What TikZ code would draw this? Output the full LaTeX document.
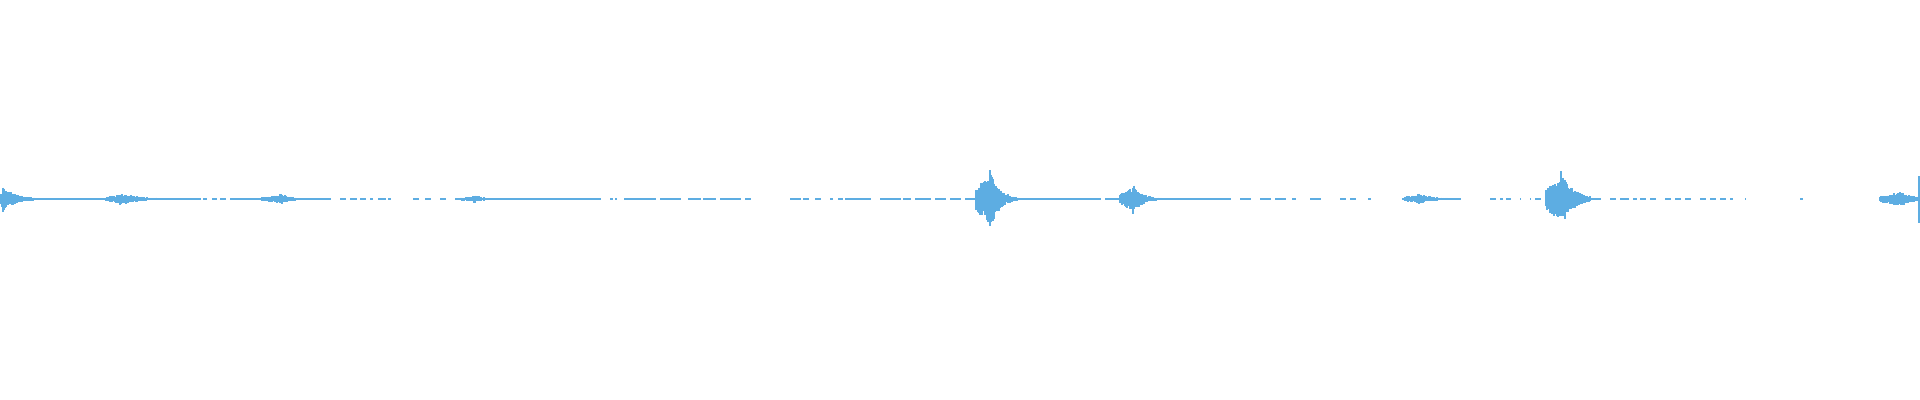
\documentclass[tikz,border=0pt]{standalone}
\definecolor{wave}{RGB}{93,173,226}
\begin{document}
\begin{tikzpicture}[x=0.01cm,y=-0.01cm,wv/.style={draw=wave,line width=0.012cm}]
\useasboundingbox (0,0) rectangle (1920,400);
\pgfmathsetseed{7}
% baseline segments
\foreach \a/\b in {0/200,203/206,212/216,220/225,230/330,340/345,350/356,360/365,370/372,378/385,388/390,413/418,425/430,440/445,455/460,462/600,610/612,615/616,624/655,660/680,688/700,703/715,720/740,745/750,790/800,803/808,815/820,830/832,838/842,845/870,880/900,903/910,915/930,935/945,950/960,965/1100,1105/1215,1215/1230,1240/1250,1260/1270,1275/1285,1292/1295,1310/1320,1340/1345,1350/1355,1368/1370,1402/1460,1490/1495,1500/1502,1506/1510,1520/1520,1530/1530,1535/1540,1545/1600,1610/1615,1620/1628,1633/1636,1640/1645,1650/1655,1665/1670,1675/1680,1685/1690,1700/1705,1710/1715,1720/1725,1730/1732,1745/1745,1800/1802,1880/1920}
  \draw[wv] (\a,199) -- (\b+1,199);
% bursts: center/amp/start/decay/end
\foreach \c/\A/\s/\d/\e in {3/13/0/12/35, 120/6/106/18/165, 280/5/262/12/295, 474/3.5/460/10/485, 990/31/976/9/1030, 1133/15/1120/9/1165, 1418/6/1405/12/1460, 1561/28/1546/12/1590, 1898/8/1880/15/1918}{
  \foreach \x in {\s,...,\e}{
    \pgfmathsetmacro\env{\x<\c ? max(1.5,\A*0.4*(1+(\x-\s)/(\c-\s+0.01))) : \A*exp(-(\x-\c)/\d)+0.5}
    \pgfmathsetmacro\u{\env*(0.55+0.45*rnd)}
    \pgfmathsetmacro\l{\env*(0.55+0.45*rnd)}
    \draw[wv] (\x,199-\u) -- (\x,199+\l);
  }
}
\draw[wv] (1919,176) -- (1919,223);
\end{tikzpicture}
\end{document}
